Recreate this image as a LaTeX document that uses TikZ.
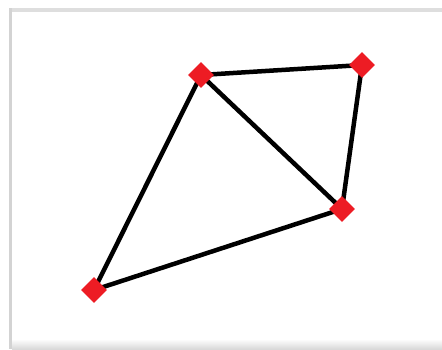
\documentclass[tikz,border=0pt]{standalone}
\usetikzlibrary{shapes.geometric}
\definecolor{vred}{RGB}{237,28,36}
\definecolor{frameg}{RGB}{200,200,200}
\pgfdeclarelayer{bg}
\pgfsetlayers{bg,main}
\begin{document}
\begin{tikzpicture}[x=1pt,y=-1pt,
  vtx/.style={diamond,fill=vred,draw=none,minimum size=26pt,inner sep=0pt},
  edge/.style={line width=4.5pt,black}]
\useasboundingbox (0,0) rectangle (442,349);
\node[vtx] (a) at (201,75) {};
\node[vtx] (b) at (362,65) {};
\node[vtx] (c) at (342,209) {};
\node[vtx] (d) at (94,290) {};
\begin{pgfonlayer}{bg}
\fill[white] (0,0) rectangle (442,349);
\fill[frameg!60] (9,8) rectangle (442,12);
\fill[frameg!80] (9,8) rectangle (12,349);
\shade[top color=white,bottom color=frameg!70] (12,339) rectangle (442,349);
\draw[edge] (a.center) -- (b.center);
\draw[edge] (b.center) -- (c.center);
\draw[edge] (a.center) -- (c.center);
\draw[edge] (a.center) -- (d.center);
\draw[edge] (d.center) -- (c.center);
\end{pgfonlayer}
\end{tikzpicture}
\end{document}
